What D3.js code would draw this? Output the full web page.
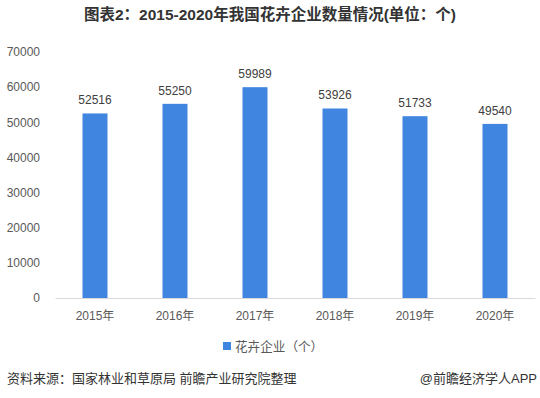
<!DOCTYPE html>
<html><head><meta charset="utf-8">
<script src="https://cdn.jsdelivr.net/npm/d3@7"></script>
<style>
html,body{margin:0;padding:0;background:#fff;}
svg{display:block;font-family:"Liberation Sans","Noto Sans CJK SC",sans-serif;}
</style></head>
<body><svg id="c" width="540" height="398"></svg>
<script>
const title = "图表2：2015-2020年我国花卉企业数量情况(单位：个)";
const categories = ["2015年","2016年","2017年","2018年","2019年","2020年"];
const values = [52516, 55250, 59989, 53926, 51733, 49540];
const yTicks = [0,10000,20000,30000,40000,50000,60000,70000];
const seriesName = "花卉企业（个）";
const source = "资料来源：国家林业和草原局 前瞻产业研究院整理";
const credit = "@前瞻经济学人APP";

(function(){
const svg = d3.select("#c");
const mLeft = 55, mRight = 535, mTop = 52, mBottom = 298;

const x = d3.scaleBand().domain(categories).range([mLeft, mRight]).paddingInner(0.6875).paddingOuter(0.34375);
const y = d3.scaleLinear().domain([0, 70000]).range([mBottom, mTop]);

svg.append("text").attr("x", 270).attr("y", 20).attr("text-anchor", "middle")
  .attr("font-size", 15.5).attr("font-weight", "bold").attr("fill", "#333")
  .text(title);

// y axis
const ya = svg.append("g").attr("transform", `translate(${mLeft},0)`)
  .call(d3.axisLeft(y).tickValues(yTicks).tickSize(0).tickPadding(15).tickFormat(d3.format("d")));
ya.select(".domain").remove();
ya.selectAll("text").attr("font-size", 12).attr("fill", "#595959").attr("font-family", "Liberation Sans, Noto Sans CJK SC, sans-serif");

// bars
svg.append("g").selectAll("rect").data(values).join("rect")
  .attr("x", (d,i) => x(categories[i]))
  .attr("width", x.bandwidth())
  .attr("y", d => y(d))
  .attr("height", d => y(0) - y(d))
  .attr("fill", "#4086e0");

// value labels
svg.append("g").selectAll("text").data(values).join("text")
  .attr("x", (d,i) => x(categories[i]) + x.bandwidth()/2)
  .attr("y", d => y(d) - 9)
  .attr("text-anchor", "middle").attr("font-size", 12).attr("fill", "#404040")
  .text(d => d);

// x axis
const xa = svg.append("g").attr("transform", `translate(0,${mBottom})`)
  .call(d3.axisBottom(x).tickSize(0).tickPadding(13));
xa.select(".domain").attr("stroke", "#d9d9d9");
xa.selectAll("text").attr("font-size", 12).attr("fill", "#595959").attr("font-family", "Liberation Sans, Noto Sans CJK SC, sans-serif");

// legend
const lg = svg.append("g");
lg.append("rect").attr("x", 223).attr("y", 342).attr("width", 8).attr("height", 8).attr("fill", "#4086e0");
lg.append("text").attr("x", 235).attr("y", 351).attr("font-size", 12.6).attr("fill", "#595959").text(seriesName);

// footer
svg.append("text").attr("x", 7).attr("y", 383).attr("font-size", 13).attr("fill", "#333").text(source);
svg.append("text").attr("x", 537).attr("y", 383).attr("text-anchor", "end").attr("font-size", 13).attr("fill", "#333").text(credit);
})();
</script></body></html>
